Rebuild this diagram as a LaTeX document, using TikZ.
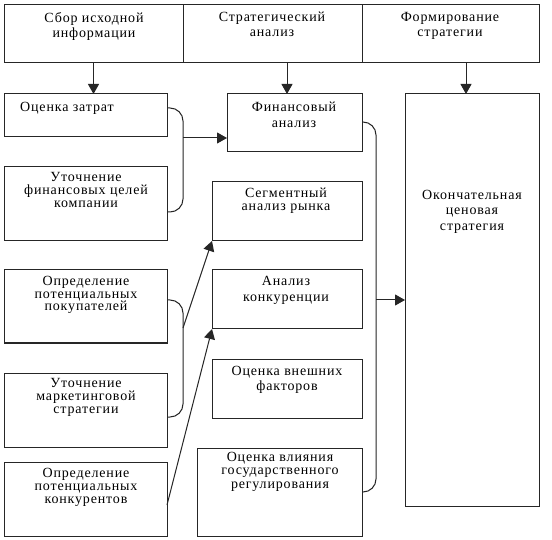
\documentclass[tikz,border=0pt]{standalone}
\usepackage{fontspec}
\setmainfont{Liberation Serif}[LetterSpace=6]
\usetikzlibrary{arrows.meta}
\newcommand\mkbox[5]{\node[box, minimum width={#4-#2}, minimum height={#5-#3}] (#1) at ({(#2+#4)/2},{(#3+#5)/2}) {};}
\tikzset{
  box/.style={draw=black!85, line width=1pt, inner sep=0pt, outer sep=0pt},
  txt/.style={inner sep=0pt, align=center, anchor=north, font=\fontsize{14}{#1}\selectfont, execute at begin node=\rule{0pt}{10pt}},
  conn/.style={draw=black!85, line width=1pt},
  arr/.style={conn, -{Triangle[width=11pt,length=10pt]}},
}
\begin{document}
\begin{tikzpicture}[x=1pt,y=-1pt]
\useasboundingbox[fill=white] (0,0) rectangle (552,540);
% top row
\mkbox{t1}{4}{5}{183}{63}
\mkbox{t2}{183}{5}{362}{63}
\mkbox{t3}{362}{5}{539}{63}
% left column
\mkbox{l1}{4}{94}{167}{137}
\mkbox{l2}{4}{167}{167}{241}
\mkbox{l3}{4}{270}{167}{343}
\mkbox{l4}{4}{373}{167}{447}
\mkbox{l5}{4}{462}{167}{536}
% middle column
\mkbox{m1}{227}{94}{362}{152}
\mkbox{m2}{212}{182}{362}{241}
\mkbox{m3}{212}{270}{362}{329}
\mkbox{m4}{212}{359}{362}{418}
\mkbox{m5}{197}{448}{362}{536}
% right
\mkbox{r}{405}{94}{539}{506}
% texts
\node[txt=15] (t1t) at (94,12) {Сбор исходной\\информации};
\node[txt=15] (t2t) at (272,12) {Стратегический\\анализ};
\node[txt=15] (t3t) at (450,12) {Формирование\\стратегии};
\node[txt=15, anchor=north west] (l1t) at (20,101) {Оценка затрат};
\node[txt=13] (l2t) at (86,172) {Уточнение\\финансовых целей\\компании};
\node[txt=12.7] (l3t) at (86,276) {Определение\\потенциальных\\покупателей};
\node[txt=13] (l4t) at (86,378) {Уточнение\\маркетинговой\\стратегии};
\node[txt=13] (l5t) at (86,468) {Определение\\потенциальных\\конкурентов};
\node[txt=16] (m1t) at (294,102) {Финансовый\\анализ};
\node[txt=13] (m2t) at (286,188) {Сегментный\\анализ рынка};
\node[txt=16] (m3t) at (286,276) {Анализ\\конкуренции};
\node[txt=15] (m4t) at (287,366) {Оценка внешних\\факторов};
\node[txt=13.5] (m5t) at (280,452) {Оценка влияния\\государственного\\регулирования};
\node[txt=15.5] (rt) at (472,190) {Окончательная\\ценовая\\стратегия};
% vertical arrows
\draw[arr] (t1.south) -- (t1.south |- l1.north);
\coordinate (a2) at ([xshift=14.5pt]t2.south);
\draw[arr] (a2) -- (a2 |- m1.north);
\coordinate (a3) at ([xshift=-6pt]r.north);
\draw[arr] (a3 |- t3.south) -- (a3);
% brace 1
\coordinate (b1a) at ([yshift=-14pt]l1.north east);
\coordinate (b1b) at ([yshift=-45pt]l2.north east);
\coordinate (b1t) at ([xshift=16pt]b1a);
\coordinate (m1w) at ([yshift=-15pt]m1.west);
\draw[conn, rounded corners=13pt] (b1a) -- (b1t) -- ([xshift=16pt]b1b) -- (b1b);
\draw[arr] (b1t |- m1w) -- (m1w);
% brace 2
\coordinate (b2a) at ([yshift=-30pt]l3.north east);
\coordinate (b2b) at ([yshift=-44pt]l4.north east);
\draw[conn, rounded corners=13pt] (b2a) -- ([xshift=16pt]b2a) -- ([xshift=16pt]b2b) -- (b2b);
\draw[arr] ([xshift=16pt,yshift=-28pt]b2a) -- (m2.south west);
% arrow from l5
\draw[arr] ([yshift=-43pt]l5.north east) -- (m3.south west);
% brace 3
\coordinate (b3a) at ([yshift=-28pt]m1.north east);
\coordinate (b3b) at ([yshift=-44pt]m5.north east);
\coordinate (b3t) at ([xshift=14pt]b3a);
\draw[conn, rounded corners=13pt] (b3a) -- (b3t) -- ([xshift=14pt]b3b) -- (b3b);
\draw[arr] (b3t |- r.west) -- (r.west);
\end{tikzpicture}
\end{document}
